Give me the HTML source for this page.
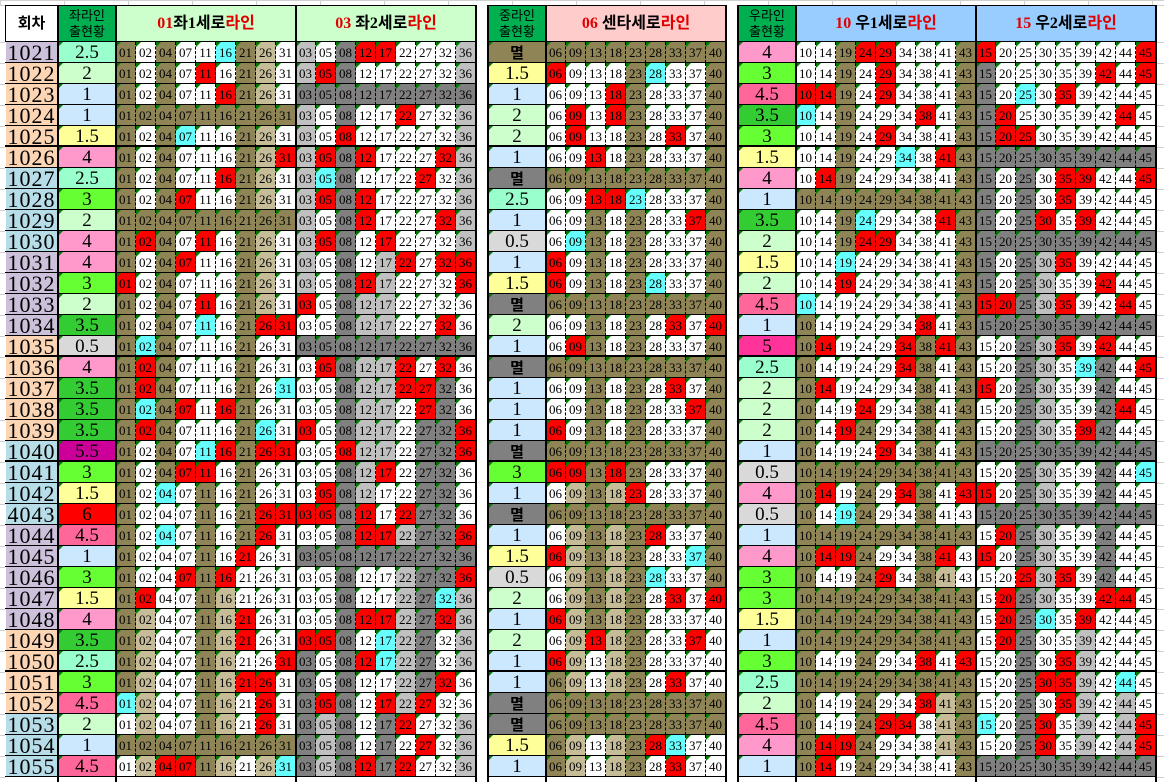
<!DOCTYPE html>
<html><head><meta charset="utf-8"><style>
body{margin:0;width:1164px;height:782px;background:#fff;position:relative;overflow:hidden;font-family:"Liberation Serif","Noto Serif CJK SC",serif}
.c{position:absolute;box-sizing:border-box;text-align:center;color:#000;overflow:hidden}
.n{font-size:13px;line-height:21px;border-right:1px dashed #000;border-bottom:1px solid #000}
.tri::before{content:"";position:absolute;left:0;top:0;border-top:5px solid #007a00;border-right:5px solid transparent}
.h{font-weight:bold;font-family:"Liberation Serif","Noto Sans CJK KR",serif;border:1px solid #000}
.r{color:#e00000}
.vl{position:absolute;background:#000}
</style></head><body>
<script>
const B=document.body;
function d(x,y,w,h,cls,bg,txt,extra){const e=document.createElement('div');e.className='c '+cls;e.style.cssText=`left:${x}px;top:${y}px;width:${w}px;height:${h}px;background:${bg};`+(extra||'');e.innerHTML=txt||'';B.appendChild(e);return e;}
for(let x=0;x<1164;x+=64){d(x,0,1,5,'','#d0d0d0');}
d(0,0,1164,1,'','#d0d0d0');d(0,5,1164,1,'','#d0d0d0');
for(let y=42;y<782;y+=21){d(0,y,5,1,'','#d0d0d0');d(1157,y,7,1,'','#d0d0d0');}
const COL={w:'#ffffff',o:'#8f8456',t:'#c6bd98',g:'#c0c0c0',d:'#808080',r:'#ff0000',c:'#66ffff'};
const ST={'0.5':'#d9d9d9','1':'#cce8ff','1.5':'#ffff99','2':'#ccffcc','2.5':'#99ffcc','3':'#66ff33','3.5':'#33cc33','4':'#ff99cc','4.5':'#ff6699','5':'#ff3399','5.5':'#cc0099','6':'#ff0000'};
const NUM=[['01','02','04','07','11','16','21','26','31'],['03','05','08','12','17','22','27','32','36'],['06','09','13','18','23','28','33','37','40'],['10','14','19','24','29','34','38','41','43'],['15','20','25','30','35','39','42','44','45']];
const BX=[116,296,546,796,976];
const R=`1021 L 2.5 owowwcotw gwdrrwwwg M ooooooooo 4 wworrwwwo rwwwwwwwr
1022 P 2 owowrwotw grdwwwwwg 1.5 rwwwocwwo 3 wwowrwwwo dwwwwwrwr
1023 P 1 owowwrotw ddddddddd 1 wwwrowwwo 4.5 rrowrwwwo dwcwrwwww
1024 P 1 ooooooooo gwdwwrwwg 2 wrwrowwwo 3.5 cwowwwrwo drwwwwwrw
1025 P 1.5 owocwwotw gwrwwwwwg 2 wrwwowrwo 3 wwowrwwwo drrwwwwww
1026 P 4 owowwwotr grdrwwwrg 1 wwrwowwwo 1.5 wwowwcwro ddddddddd
1027 B 2.5 owowwrotw gcdwwwrwg MD ooooooooo 4 wrowwwwwo dwdwrrwwr
1028 B 3 oworwwotw grdrwwwwg 2.5 wwrrcwwwo 1 ooooooooo dwdwrwwww
1029 B 2 ooooooooo gwdrwwwrg 1 wwowowwro 3.5 wwocwwwro dwdrwrwww
1030 B 4 orowrwotw grdwrwwwg 0.5 wcowowwwo 2 wworrwwwo ddddddddd
1031 L 4 oworwwotw gwdwgrwrr 1 rwowowwwo 1.5 wwcwwwwwo dwdgrwwww
1032 L 3 rwowwwotw gwdrgwwwr 1.5 rwowocwwo 2 wwrwwwwwo dwdgwwrww
1033 L 2 owowrwotw rwdggwwww MD ooooooooo 4.5 cwwwwwwwo rrdgrwwrw
1034 L 3.5 owowcworr wwdggwwrw 2 wwowowrwr 1 owwwwwrwo ddddddddd
1035 P 0.5 ocowwwoww ddddddddd 1 wrowowwwo 5 orwwwroro wwdgrwrww
1036 P 4 orowwwoww wrdggrwrw MD ooooooooo 2.5 owwwwrowo wwdgwcdwr
1037 P 3.5 orowwwowc wwdggrrdw 1 wwowowrwo 2 orwwwwowo rwdgwwdww
1038 P 3.5 ocorwroww wwdggwrdw 1 wwowowwro 2 owwrwwowo wwdgwwdrw
1039 P 3.5 orowwwocw rwdggwddr 1 rwowowwwo 2 owrowwowo wwdgwrdww
1040 B 5.5 owowcrorr wwrggwddr MD ooooooooo 1 owwwrwowo ddddddddd
1041 B 3 oworrwoww wwdgrwddw 3 rrorowwwo 0.5 ooooooooo wwdgwwdwc
1042 B 1.5 owcwowoww wrdgwwddw 1 wtotrwwwo 4 orwowrowr rwdgwwdww
4043 B 6 owwwoworr rrdrwrddw MD ooooooooo 0.5 owcowwoww ddddddddd
1044 L 4.5 owcwoworw wwdrrgddr 1 wtotorwwo 1 ooooooooo wrdgwwdww
1045 L 1 owwwowrww ddddddddd 1.5 rtotowwco 4 orrowworw rwdgwwdww
1046 L 3 owwrorwww wwdwwgddr 0.5 wtotocwwo 3 owworwotw wwrgrwdww
1047 L 1.5 orwwotwww wwdwwgdcg 2 wtotowrwr 3 ooooooooo wrdgwwrrw
1048 L 4 otwwotrww wwdrrgdrg 1 rtotowwww 1.5 ooooooooo wrdcwrwww
1049 P 3.5 otwwotrww rrdwcgdwg 2 wtrtowwrw 1 ooooooooo wrdwwgwww
1050 P 2.5 otwwotwwr dwdrcgdwg 1 rtwtowwww 3 owwowwrwr wwdwrgwww
1051 P 3 otwwotrrw dwdwwgdrw 1 otwtowrww 2.5 ooooooooo wwdrrgwcw
1052 P 4.5 ctwwotwrw drdwrgrww MD ooooooooo 2 owwowwrto wwdwrgwgw
1053 B 2 wtwwotwrw dgdwdrwwg MD ooooooooo 4.5 owworrwto cwdrwgwgr
1054 B 1 ooooooooo dgdwdwrwg 1.5 otwtorcww 4 orrowwwto wwdrwgwgr
1055 B 4.5 wtrrotwtc dgdrdrwwg 1 otwtowrww 1 orwowwwwo ddddddddd`.split('\n');
const LC={L:'#ccc0da',P:'#fcd5b4',B:'#b7dee8'};
function fix(s){s=s.replace(/[^owtgdrc]/g,'');while(s.length<9)s+='w';return s.slice(0,9);}
R.forEach((line,i)=>{
  const p=line.trim().split(/\s+/);
  let k=0;const lab=p[k++],lc=p[k++],lv=p[k++],b1=p[k++],b2=p[k++];
  let mv=p[k++],mc;
  if(mv==='M'){mv='멸';mc='#8f8456';}else if(mv==='MD'){mv='멸';mc='#808080';}else mc=ST[mv];
  const b3=p[k++],rv=p[k++],b4=p[k++],b5=p[k++];
  const y=42+i*21;
  d(5,y,53,21,'n','#fff','',`border-right:1px solid #000;`);
  d(6,y,51,20,'','' ,lab,`background:${LC[lc]};font-size:22px;line-height:22px;letter-spacing:1px;`);
  const st=(x,v,c)=>d(x,y,58,21,'n tri',c,v,`font-size:19px;line-height:22px;border-right:none;`+(v==='멸'?'font-family:"Noto Sans CJK KR",sans-serif;font-size:15px;font-weight:bold;':''));
  st(58,lv,ST[lv]);st(488,mv,mc);st(738,rv,ST[rv]);
  [b1,b2,b3,b4,b5].forEach((b,j)=>{b=fix(b);for(let m=0;m<9;m++){d(BX[j]+m*20,y,20,21,'n tri',COL[b[m]],NUM[j][m]);}});
  if(['1025','1035','1040','1050'].includes(lab)) d(5,y+19,1151,3,'','#000');
});
const hy=5,hh=37;
d(5,hy,53,hh,'h','#fff','회차','font-size:15px;line-height:36px;');
const gh=(x,t)=>d(x,hy,58,hh,'h','#00b050',t,'font-size:13px;line-height:16px;padding-top:2px;font-weight:normal;');
gh(58,'좌라인<br>출현황');gh(488,'중라인<br>출현황');gh(738,'우라인<br>출현황');
const th=(x,bg,a,b)=>d(x,hy,180,hh,'h',bg,`<span class="r">${a}</span>${b}<span class="r">라인</span>`,'font-size:16px;line-height:36px;');
th(116,'#ccffcc','01','좌1세로');th(296,'#ccffcc','03 ','좌2세로');th(546,'#ffcccc','06 ','센타세로');th(796,'#99ccff','10 ','우1세로');th(976,'#99ccff','15 ','우2세로');
[[57,2],[115,2],[295,2],[545,2],[795,2],[975,2],[1155,2]].forEach(([x,w])=>{const e=document.createElement('div');e.className='vl';e.style.cssText=`left:${x}px;top:5px;width:${w}px;height:777px`;B.appendChild(e);});
d(476,5,11,777,'','#fff');d(726,5,11,777,'','#fff');
[[475,2],[487,2],[725,2],[737,2]].forEach(([x,w])=>{const e=document.createElement('div');e.className='vl';e.style.cssText=`left:${x}px;top:5px;width:${w}px;height:777px`;B.appendChild(e);});
</script>
</body></html>
